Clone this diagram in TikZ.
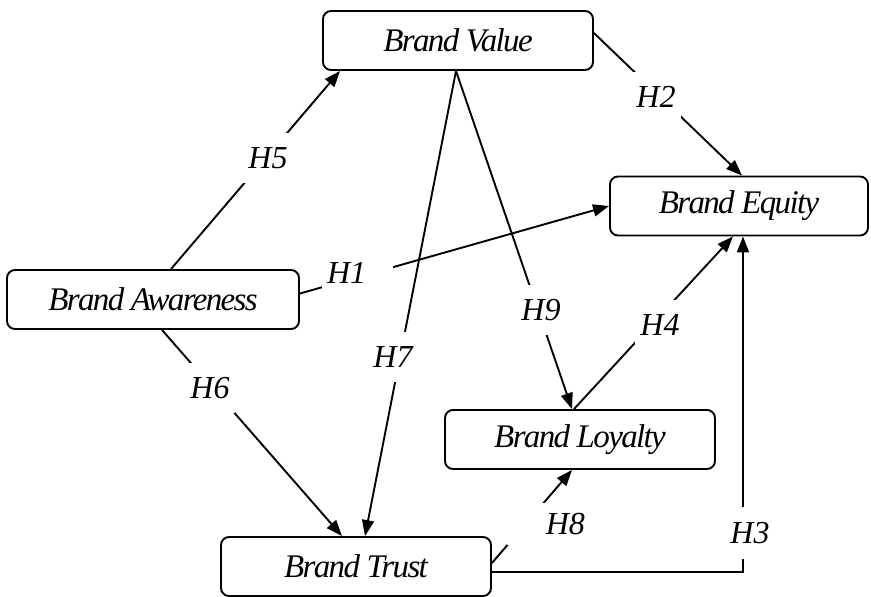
\documentclass[tikz,border=0pt]{standalone}
\usepackage{fontspec}
\setmainfont{Liberation Serif}
\usetikzlibrary{arrows.meta,calc}
\begin{document}
\begin{tikzpicture}[x=1pt,y=-1pt,
  txt/.style={font=\fontsize{32}{38}\selectfont\itshape},
  box/.style={font=\fontsize{33}{38}\selectfont\itshape\addfontfeatures{LetterSpace=-5}, draw, line width=1.9pt, rounded corners=8pt, minimum height=59pt, inner sep=0pt},
  conn/.style={line width=1.9pt},
  arr/.style={conn, -{Triangle[length=16pt,width=12pt]}},
  lbl/.style={txt, fill=white, inner sep=0pt, minimum width=50pt, minimum height=50pt}
]
\useasboundingbox (0,0) rectangle (871,597);
% boxes
\node[box, minimum width=270pt] (val) at (458,40.5) {Brand Value};
\node[box, minimum width=258pt] (eq)  at (739,206)  {Brand Equity};
\node[box, minimum width=292pt] (aw)  at (153,299.5) {Brand Awareness};
\node[box, minimum width=270pt] (tr)  at (356,566.5) {Brand Trust};
\node[box, minimum width=270pt] (loy) at (580,439.5) {Brand Loyalty};
% connectors
\draw[arr] ([xshift=18pt]aw.north) -- ([xshift=-118pt]val.south);
\draw[arr] ([yshift=6pt]aw.east) -- (eq.west);
\draw[arr] ([yshift=7.5pt]val.east) -- ([xshift=3pt]eq.north);
\draw[arr] ([xshift=-2pt]val.south) -- ([xshift=9pt]tr.north);
\draw[arr] ([xshift=-2pt]val.south) -- ([xshift=-8pt]loy.north);
\draw[arr] ([xshift=-6pt]loy.north) -- ([xshift=-6pt]eq.south);
\draw[arr] ([yshift=-5.5pt]tr.east) -| ([xshift=4pt]eq.south);
\draw[arr] ([xshift=9pt]aw.south) -- ([xshift=-14pt]tr.north);
\draw[arr] ([yshift=3.5pt]tr.east) -- ([xshift=-8pt]loy.south);
% labels
\node[lbl] (h5) at (268,158) {H5};
\node[lbl] (h2) at (656,96.5) {H2};
\node[lbl] (h7) at (393,357) {H7};
\node[lbl] (h6) at (210,388) {H6};
\node[lbl] (h9) at (541,310) {H9};
\node[lbl] (h4) at (660,325) {H4};
\node[lbl, minimum height=52pt] (h3) at (750,533) {H3};
\node[lbl, minimum height=34pt, text width=60pt, inner xsep=5.5pt, align=left] (h1) at (357,273) {H1};
\node[lbl, minimum height=42pt, text width=76pt, inner xsep=2pt, align=right] (h8) at (547,524) {\raisebox{-8pt}{H8}};
\end{tikzpicture}
\end{document}
